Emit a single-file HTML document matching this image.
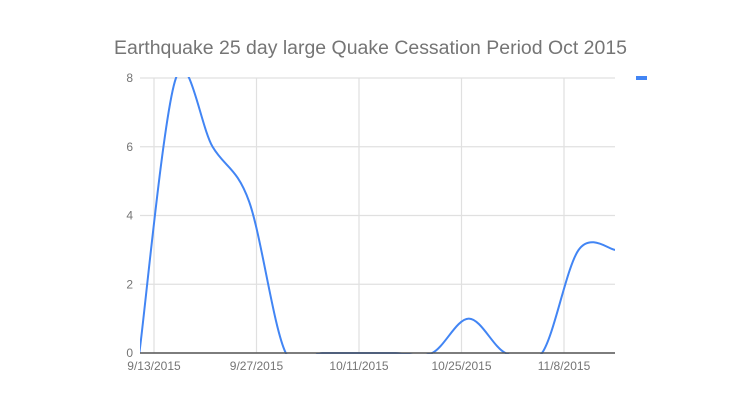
<!DOCTYPE html>
<html><head><meta charset="utf-8"><style>
html,body{margin:0;padding:0;background:#fff;}
svg{display:block;font-family:"Liberation Sans",Arial,sans-serif;}
</style></head><body>
<svg id="chart" width="731" height="412" viewBox="0 0 731 412">
<rect width="731" height="412" fill="#fff"/>
<text x="114" y="54" font-size="19" fill="#757575" textLength="513" lengthAdjust="spacingAndGlyphs">Earthquake 25 day large Quake Cessation Period Oct 2015</text>
<g id="grid"></g>
<g id="series"></g>
<rect x="636" y="76" width="11" height="4" fill="#4285f4"/>
</svg>
<script>
const dayOffsets = [-2,3,8,13,18,23,28,33,38,43,48,53,58]; // days from 9/13/2015
const values = [0,8,6,4.4,0,0,0,0,0,1,0,0,3];
const lastPoint = {day:63, value:3};
const yTicks = [0,2,4,6,8];
const xTickDays = [0,14,28,42,56];
const xTickLabels = ["9/13/2015","9/27/2015","10/11/2015","10/25/2015","11/8/2015"];

const NS="http://www.w3.org/2000/svg";
const L=140,R=615,T=78,B=353;
const x=d=>154+d*(102.5/14);
const y=v=>B-(v/8)*(B-T);
const grid=document.getElementById('grid'), series=document.getElementById('series');
function mk(tag,attrs,parent){const e=document.createElementNS(NS,tag);for(const k in attrs)e.setAttribute(k,attrs[k]);parent.appendChild(e);return e;}
yTicks.forEach(v=>{
  const l=mk('line',{x1:L,x2:R,y1:y(v),y2:y(v),stroke:'#e0e0e0','stroke-width':1.2},grid);
  
  
  const t=mk('text',{x:133,y:y(v)+4,'text-anchor':'end','font-size':12,fill:'#757575'},grid);
  t.textContent=v;
  
  
});
xTickDays.forEach((d,i)=>{
  const l=mk('line',{x1:x(d),x2:x(d),y1:T,y2:B,stroke:'#e0e0e0','stroke-width':1.2},grid);
  
  
  const t=mk('text',{x:x(d),y:370,'text-anchor':'middle','font-size':12,fill:'#757575'},grid);
  t.textContent=xTickLabels[i];
  
  
});
const pts=dayOffsets.map((d,i)=>[x(d),y(values[i])]);
pts.push([x(lastPoint.day),y(lastPoint.value)]);
let dstr=`M${pts[0][0]},${pts[0][1]}`;
const k=0.5/3;
for(let i=0;i<pts.length-1;i++){
  const p0=pts[Math.max(0,i-1)],p1=pts[i],p2=pts[i+1],p3=pts[Math.min(pts.length-1,i+2)];
  const c1=[p1[0]+(p2[0]-p0[0])*k,p1[1]+(p2[1]-p0[1])*k];
  const c2=[p2[0]-(p3[0]-p1[0])*k,p2[1]-(p3[1]-p1[1])*k];
  dstr+=` C${c1[0]},${c1[1]} ${c2[0]},${c2[1]} ${p2[0]},${p2[1]}`;
}
mk('clipPath',{id:'clip'},series);
mk('rect',{x:L,y:T-1,width:R-L,height:B-T+2},document.getElementById('clip'));
const path=mk('path',{d:dstr,fill:'none',stroke:'#4285f4','stroke-width':2,'clip-path':'url(#clip)'},series);


const base=mk('line',{x1:L,x2:R,y1:B,y2:B,stroke:'#555','stroke-width':1.5},series);


</script>
</body></html>
